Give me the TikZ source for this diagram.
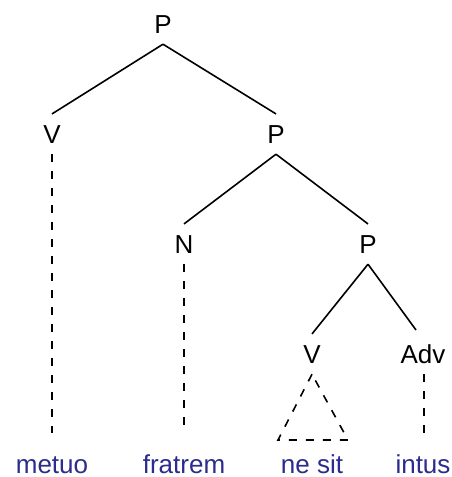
\documentclass[tikz,border=0pt]{standalone}
\usepackage{fontspec}
\setmainfont{Liberation Sans}
\definecolor{wordblue}{RGB}{44,44,140}
\begin{document}
\begin{tikzpicture}[x=1pt,y=-1pt,
  lab/.style={font=\fontsize{26}{30}\selectfont, anchor=base, inner xsep=0pt, inner ysep=11pt},
  word/.style={lab, text=wordblue, text height=18pt, inner ysep=22pt},
  branch/.style={line width=1.6pt},
  dline/.style={line width=1.6pt, dash pattern=on 8pt off 9pt}]
\useasboundingbox[fill=white] (0,0) rectangle (451,477);
% category labels
\node[lab] (P1) at (163,33) {P};
\node[lab] (V1) at (52,143) {V};
\node[lab] (P2) at (276,143) {P};
\node[lab] (N)  at (184,253) {N};
\node[lab] (P3) at (368,253) {P};
\node[lab] (V3) at (312,363) {V};
\node[lab] (Adv) at (423,363) {Adv};
% words
\node[word] (w1) at (52,473) {metuo};
\node[word] (w2) at (184,473) {fratrem};
\node[word] (w3) at (312,473) {ne sit};
\node[word] (w4) at (423,473) {intus};
% triangle corners
\coordinate (tl) at (278,440);
\coordinate (tr) at (348,440);
\coordinate (advin) at (416,330);
% branches
\draw[branch] (P1.south) -- (V1.north);
\draw[branch] (P1.south) -- (P2.north);
\draw[branch] (P2.south) -- (N.north);
\draw[branch] (P2.south) -- (P3.north);
\draw[branch] (P3.south) -- (V3.north);
\draw[branch] (P3.south) -- (advin);
% dashed links
\draw[dline] (V1.south) -- (w1.north);
\draw[dline] (N.south) -- (w2.north);
\draw[dline] ([xshift=1pt]Adv.south) -- ([xshift=1pt]w4.north);
\draw[dline] (V3.south) -- (tl) -- (tr) -- cycle;
\end{tikzpicture}
\end{document}
